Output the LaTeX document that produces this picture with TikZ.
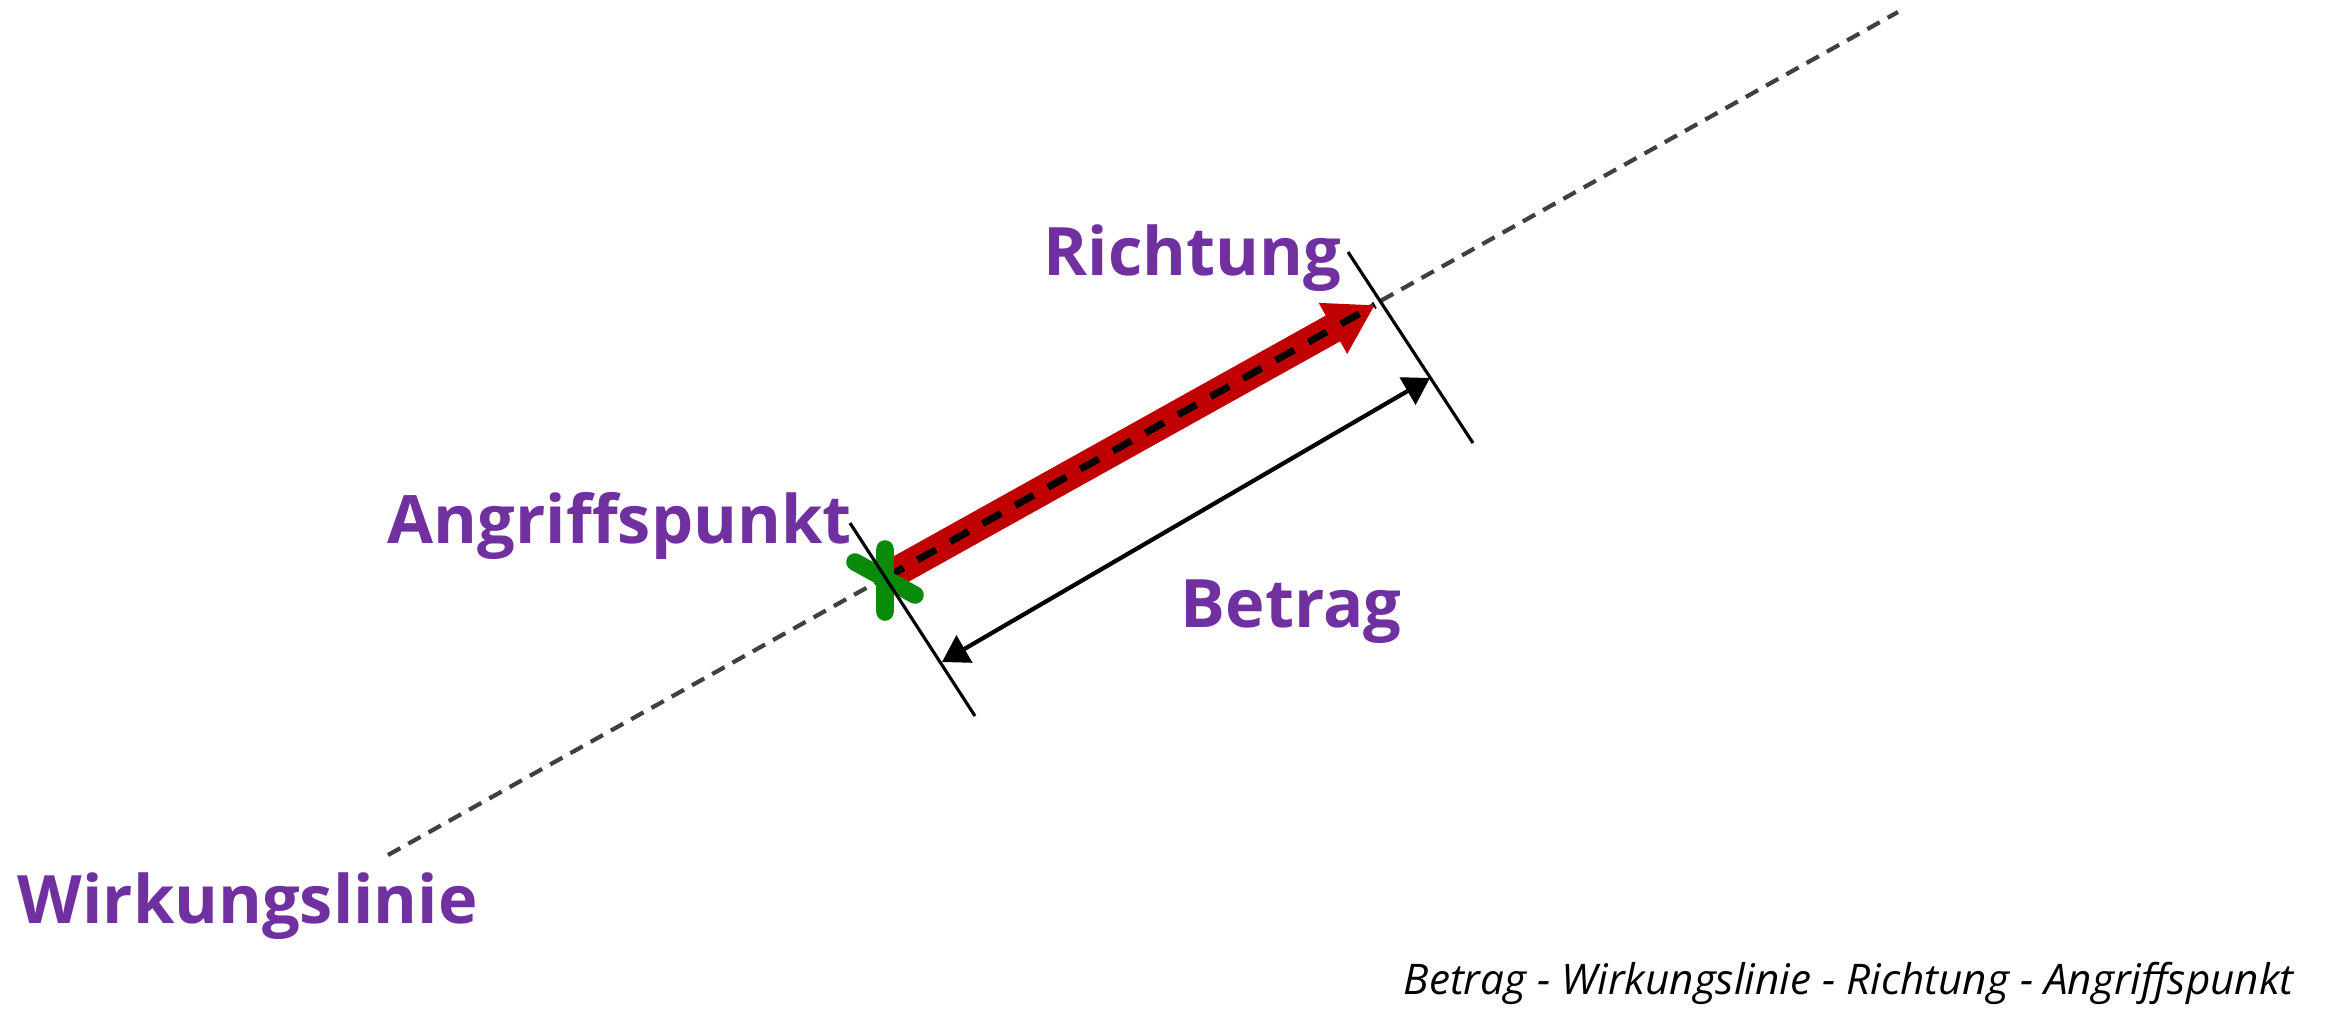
\documentclass[tikz,border=0pt]{standalone}
\usepackage{fontspec}
\setmainfont{Open Sans}
\usetikzlibrary{arrows.meta}
\definecolor{lila}{HTML}{7030A0}
\definecolor{rot}{HTML}{C00000}
\definecolor{gruen}{HTML}{0A8A0A}
\begin{document}
\begin{tikzpicture}[x=0.01cm, y=-0.01cm, line join=round,
	label/.style={text=lila, font=\bfseries\fontsize{19}{23}\selectfont, inner sep=0pt, anchor=base west},
	wirk/.style={draw=black!75, line width=1.2pt, dash pattern=on 4pt off 2.6pt},
	kraft/.style={draw=rot, line width=8.4pt, -{Triangle[length=13.7pt,width=15.6pt]}},
	mitte/.style={draw=black, line width=2pt, dash pattern=on 6pt off 4.6pt},
	tick/.style={draw=black, line width=0.9pt},
	mass/.style={draw=black, line width=1.2pt, {Triangle[length=7.4pt,width=8.8pt]}-{Triangle[length=7.4pt,width=8.8pt]}}]
	\useasboundingbox (0,0) rectangle (2326,1008);
	\coordinate (W1) at (388,855);
	\coordinate (W2) at (1898,12);
	\coordinate (P) at (885,578);
	\coordinate (S) at (1375,305);
	\coordinate (T1) at (850,523);
	\coordinate (T2) at (975,716);
	\coordinate (T3) at (1348,252);
	\coordinate (T4) at (1473,443);
	\coordinate (M1) at (942,662);
	\coordinate (M2) at (1430,378);
	% Wirkungslinie
	\draw[wirk] (W1) -- (W2);
	% Kraftpfeil
	\draw[kraft] (P) -- (S);
	\draw[mitte] (P) -- (S);
	% Angriffspunkt
	\draw[gruen, line width=5pt, line cap=round] (885,549) -- (885,612) (855,562) -- (915,595);
	% Begrenzungen und Betrag
	\draw[tick] (T1) -- (T2);
	\draw[tick] (T3) -- (T4);
	\draw[mass] (M1) -- (M2);
	\node[label] (richtung) at (1043,275) {Richtung};
	\node[label] (angriff) at (387,543) {Angriffspunkt};
	\node[label] (betrag) at (1180,627) {Betrag};
	\node[label] (linie) at (17,923) {Wirkungslinie};
	\node[inner sep=0pt, anchor=base west, font=\itshape\fontsize{12}{14}\selectfont] (text) at (1403,994) {Betrag - Wirkungslinie - Richtung - Angriffspunkt};
\end{tikzpicture}
\end{document}
